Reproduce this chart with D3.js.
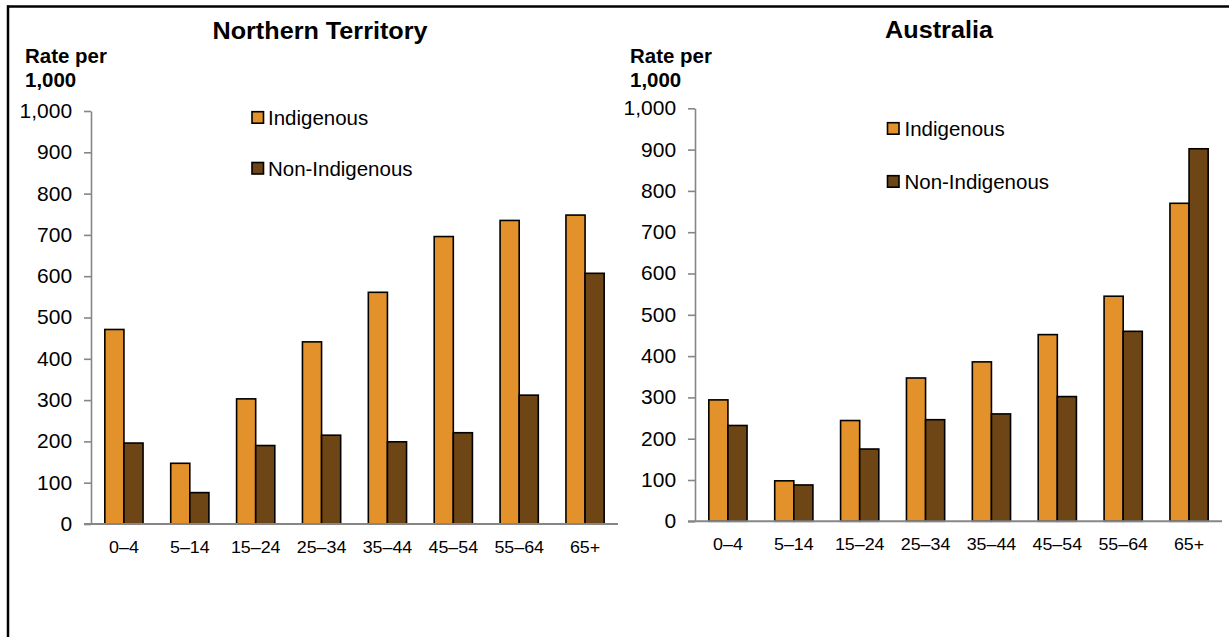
<!DOCTYPE html>
<html>
<head>
<meta charset="utf-8">
<script src="https://cdn.jsdelivr.net/npm/d3@7"></script>
<style>
  html, body { margin: 0; padding: 0; background: #fff; }
  svg { display: block; }
  text { font-family: "Liberation Sans", Arial, sans-serif; fill: #000; }
</style>
</head>
<body>
<svg id="chart" width="1229" height="637"></svg>
<script>
// ---- data ----
const ageGroups = ["0–4", "5–14", "15–24", "25–34", "35–44", "45–54", "55–64", "65+"];
const seriesNames = ["Indigenous", "Non-Indigenous"];
const ntIndigenous = [471, 147, 303, 441, 561, 696, 735, 748];
const ntNonIndigenous = [196, 76, 190, 215, 199, 221, 312, 607];
const ausIndigenous = [294, 98, 244, 347, 386, 452, 545, 770];
const ausNonIndigenous = [232, 88, 175, 246, 260, 302, 460, 902];
const yTicks = [0, 100, 200, 300, 400, 500, 600, 700, 800, 900, 1000];
const panelTitles = ["Northern Territory", "Australia"];
const yLabelLines = ["Rate per", "1,000"];

const colors = { "Indigenous": "#E3912A", "Non-Indigenous": "#6E4514" };
const SX = 1.05; // slight horizontal text stretch seen in reference

const svg = d3.select("#chart");

// frame
svg.append("line").attr("x1", 7).attr("x2", 1229).attr("y1", 6.5).attr("y2", 6.5)
  .attr("stroke", "#000").attr("stroke-width", 2.5);
svg.append("line").attr("x1", 8).attr("x2", 8).attr("y1", 5.5).attr("y2", 637)
  .attr("stroke", "#000").attr("stroke-width", 2.5);

function txt(g, x, y, s, size, weight, anchor) {
  return g.append("text")
    .attr("transform", `translate(${x},${y}) scale(${SX},1)`)
    .attr("text-anchor", anchor || "start")
    .style("font-size", size + "px")
    .style("font-weight", weight || "normal")
    .text(s);
}

const panels = [
  { title: panelTitles[0], a: ntIndigenous, b: ntNonIndigenous,
    x0: 91, x1: 618, yBase: 524, yTop: 111,
    titleX: 320, titleY: 38.5, labX: 25, labY: [63, 87],
    legX: 252, legY: [111.7, 162.5], legTextX: 268, legBase: [124.5, 175.5] },
  { title: panelTitles[1], a: ausIndigenous, b: ausNonIndigenous,
    x0: 695, x1: 1222, yBase: 521.3, yTop: 108.3,
    titleX: 939, titleY: 38, labX: 630, labY: [63, 87],
    legX: 887.5, legY: [122.7, 175.7], legTextX: 904.5, legBase: [135.5, 188.5] }
];

panels.forEach(p => {
  const g = svg.append("g");
  const x = d3.scaleBand().domain(ageGroups).range([p.x0, p.x1]).padding(0);
  const bw = x.bandwidth();
  const xs = d3.scaleBand().domain(seriesNames).range([bw * 0.21, bw * 0.79]).padding(0);
  const y = d3.scaleLinear().domain([0, 1000]).range([p.yBase, p.yTop]);

  // bars
  const rows = ageGroups.map((c, i) => ({ cat: c, vals: [
    { s: seriesNames[0], v: p.a[i] }, { s: seriesNames[1], v: p.b[i] } ] }));
  const grp = g.selectAll("g.cat").data(rows).enter().append("g")
    .attr("transform", d => `translate(${x(d.cat)},0)`);
  grp.selectAll("rect").data(d => d.vals).enter().append("rect")
    .attr("x", d => xs(d.s))
    .attr("width", xs.bandwidth())
    .attr("y", d => y(d.v))
    .attr("height", d => y(0) - y(d.v))
    .attr("fill", d => colors[d.s])
    .attr("stroke", "#000").attr("stroke-width", 1.6);

  // y axis
  const ya = g.append("g").attr("transform", `translate(${p.x0},0)`)
    .call(d3.axisLeft(y).tickValues(yTicks).tickSize(7).tickSizeOuter(0)
      .tickPadding(11).tickFormat(d3.format(",")));
  ya.select(".domain").attr("stroke", "#868686").attr("stroke-width", 1.6);
  ya.selectAll(".tick line").attr("stroke", "#868686").attr("stroke-width", 1.6);
  ya.selectAll(".tick text").attr("transform", `scale(${SX},1)`)
    .style("font-size", "20px").style("font-family", "'Liberation Sans', Arial, sans-serif")
    .attr("fill", "#000");

  // x axis
  const xa = g.append("g").attr("transform", `translate(0,${p.yBase})`)
    .call(d3.axisBottom(x).tickSize(0).tickPadding(17));
  xa.select(".domain").remove();
  xa.selectAll(".tick text").attr("transform", `scale(${SX},1)`)
    .style("font-size", "17px").style("font-family", "'Liberation Sans', Arial, sans-serif")
    .attr("fill", "#000");
  g.append("line").attr("x1", p.x0 - 7).attr("x2", p.x1)
    .attr("y1", p.yBase).attr("y2", p.yBase)
    .attr("stroke", "#868686").attr("stroke-width", 2);

  // title
  txt(g, p.titleX, p.titleY, p.title, 24, "bold", "middle");
  // y label
  yLabelLines.forEach((l, i) => txt(g, p.labX, p.labY[i], l, 19.5, "bold"));

  // legend
  seriesNames.forEach((s, i) => {
    g.append("rect").attr("x", p.legX).attr("y", p.legY[i])
      .attr("width", 11.5).attr("height", 11.5)
      .attr("fill", colors[s]).attr("stroke", "#000").attr("stroke-width", 1.6);
    txt(g, p.legTextX, p.legBase[i], s, 19.5);
  });
});
</script>
</body>
</html>
